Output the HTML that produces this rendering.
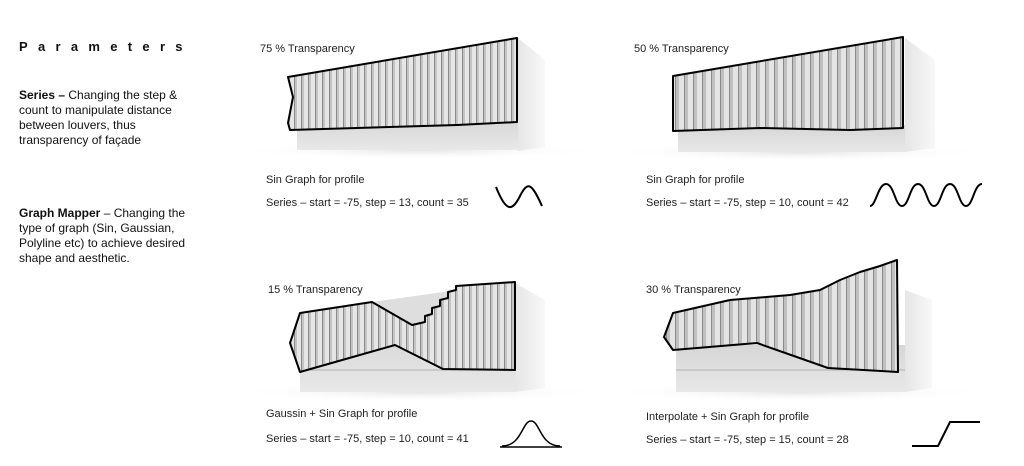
<!DOCTYPE html>
<html><head><meta charset="utf-8"><style>
html,body{margin:0;padding:0;background:#fff;}
body{width:1024px;height:466px;position:relative;overflow:hidden;font-family:"Liberation Sans",sans-serif;color:#111;}
.t{position:absolute;font-size:12px;line-height:15px;}
.c{position:absolute;font-size:11px;color:#222;white-space:nowrap;}
svg{position:absolute;left:0;top:0;}
</style></head><body>
<svg width="1024" height="466" viewBox="0 0 1024 466">
<defs>
<linearGradient id="side" x1="0" x2="1"><stop offset="0" stop-color="#e6e6e6"/><stop offset="1" stop-color="#f8f8f8"/></linearGradient>
<linearGradient id="front" x1="0" x2="0" y1="0" y2="1"><stop offset="0" stop-color="#d6d6d6"/><stop offset="1" stop-color="#e8e8e8"/></linearGradient>
<pattern id="lv" width="7" height="10" patternUnits="userSpaceOnUse"><rect width="7" height="10" fill="#e6e6e6"/><rect width="1" height="10" fill="#8a8a8a"/><rect x="1" width="2" height="10" fill="#c4c4c4"/></pattern>
<pattern id="lv2" width="9" height="10" patternUnits="userSpaceOnUse"><rect width="9" height="10" fill="#e4e4e4"/><rect width="1" height="10" fill="#8a8a8a"/><rect x="1" width="3" height="10" fill="#c0c0c0"/></pattern>
<radialGradient id="sh" cx="0.5" cy="0.5" r="0.5"><stop offset="0" stop-color="#e4e4e4"/><stop offset="1" stop-color="#fff" stop-opacity="0"/></radialGradient>
</defs>
<!-- panel 1 -->
<ellipse cx="420" cy="150" rx="185" ry="10" fill="url(#sh)"/>
<rect x="297" y="118" width="221" height="32" fill="url(#front)"/>
<polygon points="518,38 545,60 545,147 518,151" fill="url(#side)"/>
<polygon points="288,77 517,38 517,122 457,125 290,130 288,123 293,97" fill="url(#lv)" stroke="#000" stroke-width="2" stroke-linejoin="round"/>
<path d="M496,187 C506,212 512,212 520,196 C528,180 532,184 542,206" fill="none" stroke="#000" stroke-width="2"/>
<!-- panel 2 -->
<ellipse cx="800" cy="152" rx="190" ry="10" fill="url(#sh)"/>
<rect x="678" y="125" width="227" height="27" fill="url(#front)"/>
<polygon points="905,38 935,60 935,148 905,152" fill="url(#side)"/>
<polygon points="673,76 903,37 903,128 850,130 760,128 673,131" fill="url(#lv2)" stroke="#000" stroke-width="2" stroke-linejoin="round"/>
<path d="M870,206 C876,206 878,184 886,184 C894,184 895,206 902,206 C909,206 910,184 918,184 C926,184 927,206 934,206 C941,206 942,184 950,184 C958,184 959,206 966,206 C973,206 974,184 982,184" fill="none" stroke="#000" stroke-width="2"/>
<!-- panel 3 -->
<ellipse cx="420" cy="392" rx="185" ry="10" fill="url(#sh)"/>
<rect x="300" y="330" width="215" height="62" fill="url(#front)"/>
<line x1="300" y1="370" x2="515" y2="370" stroke="#b0b0b0"/>
<polygon points="515,283 545,300 545,388 515,392" fill="url(#side)"/>
<polygon points="372,302 515,282 515,330 412,325" fill="#dedede"/>
<polygon points="300,313 372,302 412,325 425,322 425,316 432,314 432,308 440,306 440,300 448,298 448,292 456,290 456,286 515,282 515,370 443,369 395,345 300,372 290,343" fill="url(#lv)" stroke="#000" stroke-width="2" stroke-linejoin="round"/>
<path d="M502,446 C522,446 522,421 531,421 C540,421 540,446 560,446" fill="none" stroke="#000" stroke-width="1.5"/>
<line x1="500" y1="447" x2="562" y2="447" stroke="#000" stroke-width="1.5"/>
<!-- panel 4 -->
<ellipse cx="800" cy="392" rx="190" ry="10" fill="url(#sh)"/>
<rect x="676" y="345" width="229" height="47" fill="url(#front)"/>
<line x1="676" y1="370" x2="905" y2="370" stroke="#b0b0b0"/>
<polygon points="905,290 932,300 932,388 905,392" fill="url(#side)"/>
<polygon points="673,313 730,300 790,295 820,290 840,280 860,272 880,266 897,260 898,372 828,368 757,343 673,350 664,337" fill="url(#lv2)" stroke="#000" stroke-width="2" stroke-linejoin="round"/>
<polyline points="912,446 938,446 950,422 980,422" fill="none" stroke="#000" stroke-width="2"/>
</svg>
<div class="t" style="left:19px;top:39px;font-weight:bold;font-size:13px;letter-spacing:10.3px;">Parameters</div>
<div class="t" style="left:19px;top:88px;width:178px;"><b>Series –</b> Changing the step &amp; count to manipulate distance between louvers, thus transparency of façade</div>
<div class="t" style="left:19px;top:206px;width:178px;"><b>Graph Mapper</b> – Changing the type of graph (Sin, Gaussian, Polyline etc) to achieve desired shape and aesthetic.</div>
<div class="c" style="left:260px;top:43px;">75 % Transparency</div>
<div class="c" style="left:266px;top:174px;">Sin Graph for profile</div>
<div class="c" style="left:266px;top:197px;">Series – start = -75, step = 13, count = 35</div>
<div class="c" style="left:634px;top:43px;">50 % Transparency</div>
<div class="c" style="left:646px;top:174px;">Sin Graph for profile</div>
<div class="c" style="left:646px;top:197px;">Series – start = -75, step = 10, count = 42</div>
<div class="c" style="left:268px;top:284px;">15 % Transparency</div>
<div class="c" style="left:266px;top:408px;">Gaussin + Sin Graph for profile</div>
<div class="c" style="left:266px;top:433px;">Series – start = -75, step = 10, count = 41</div>
<div class="c" style="left:646px;top:284px;">30 % Transparency</div>
<div class="c" style="left:646px;top:411px;">Interpolate + Sin Graph for profile</div>
<div class="c" style="left:646px;top:434px;">Series – start = -75, step = 15, count = 28</div>
</body></html>
